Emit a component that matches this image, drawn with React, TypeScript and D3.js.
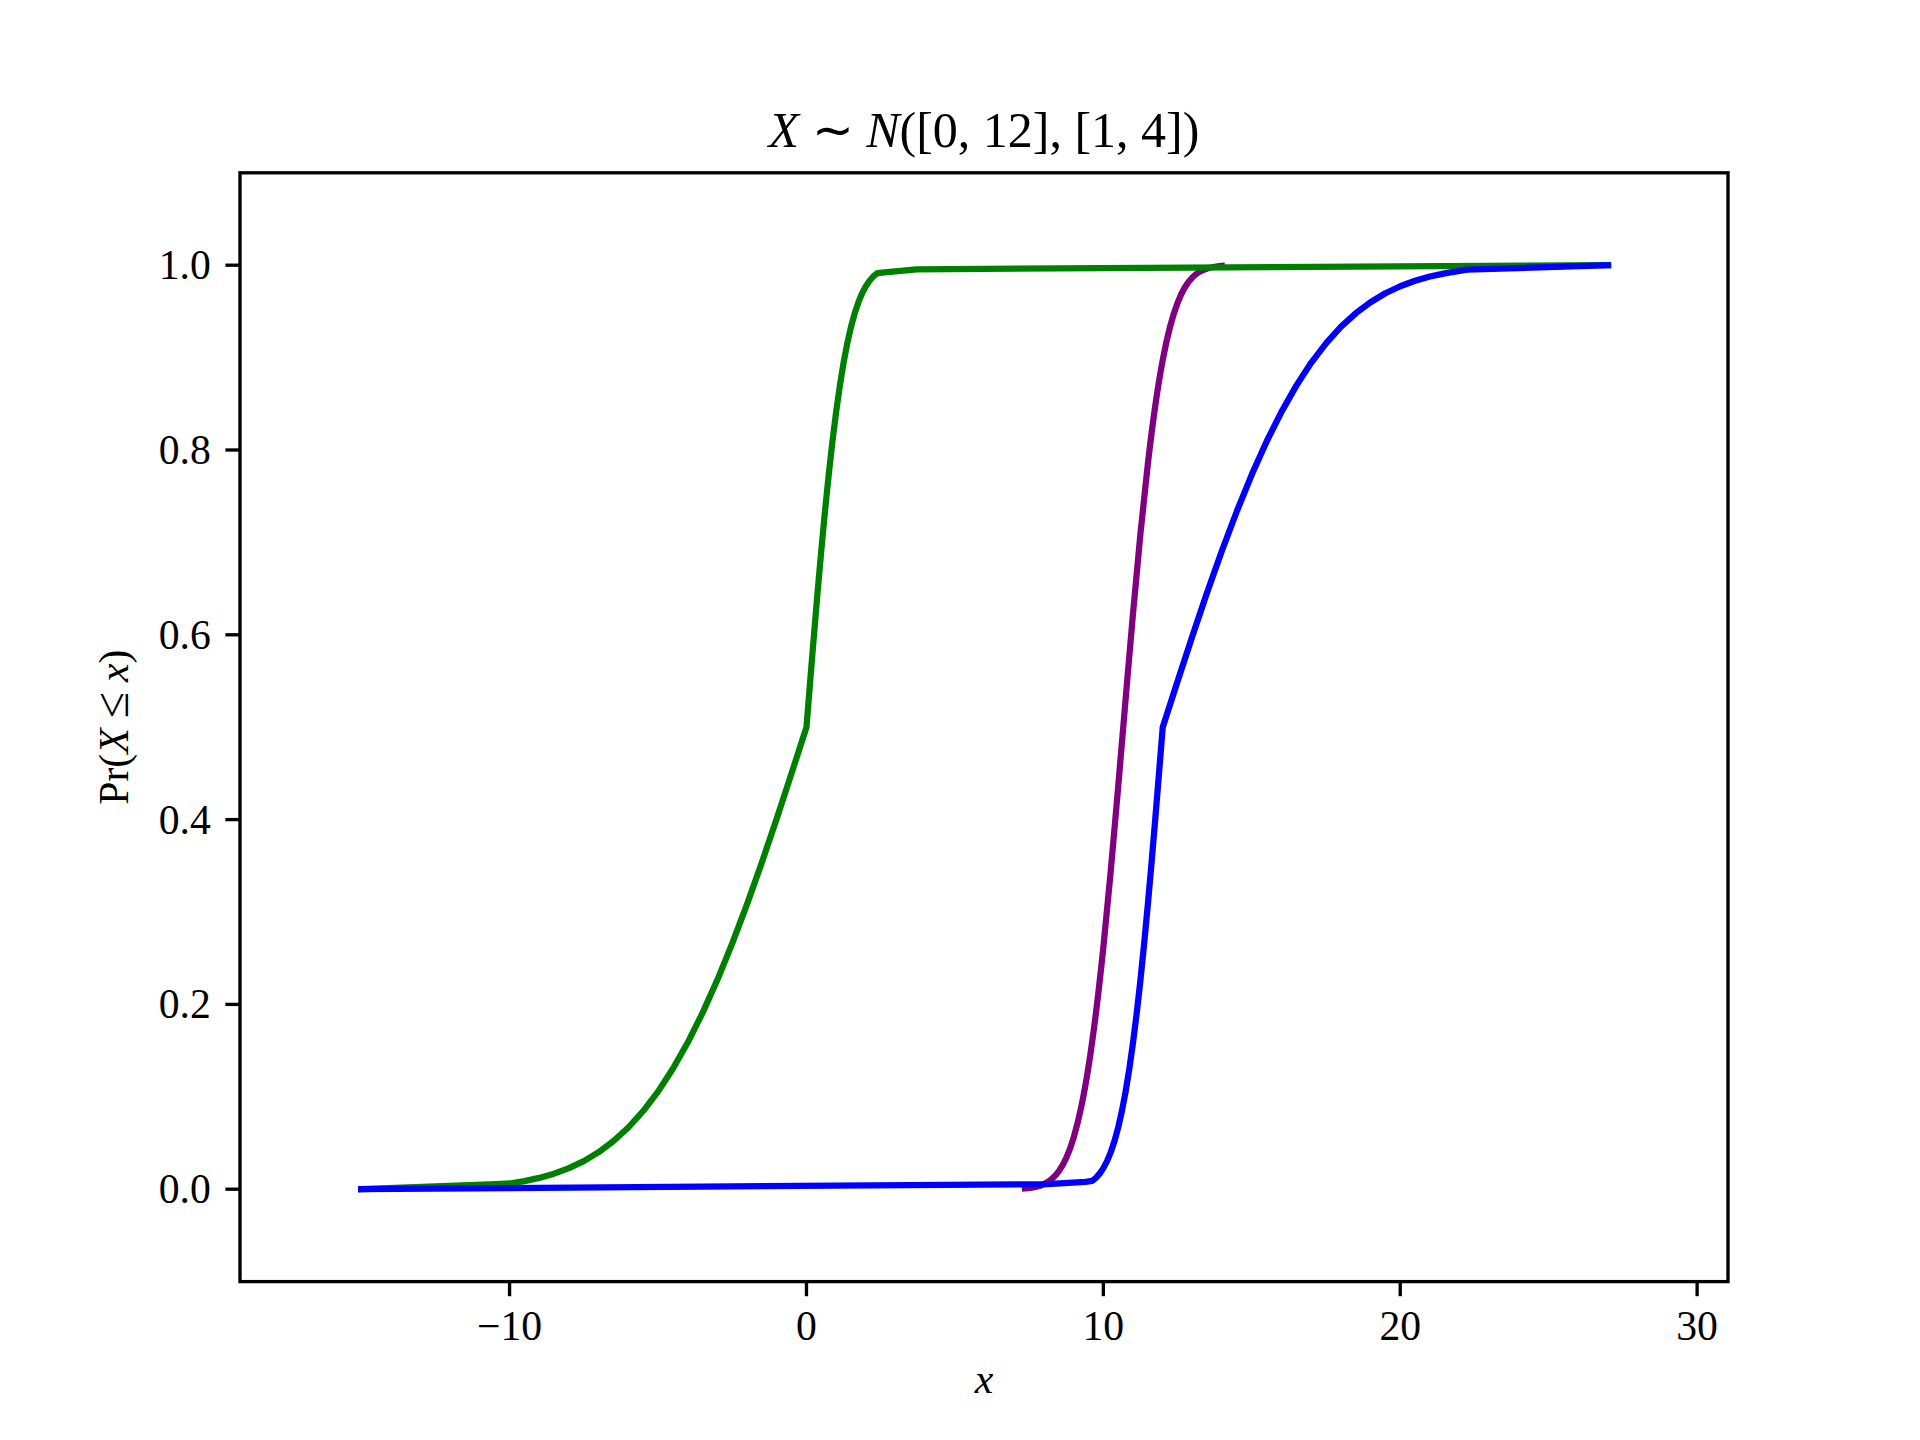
import { FC, useMemo } from "react";
import * as d3 from "d3";

const WIDTH = 1920;
const HEIGHT = 1440;
const MARGIN = { top: 172.8, right: 192, bottom: 158.4, left: 240 };

const X_DOMAIN: [number, number] = [-19.08, 31.04];
const Y_DOMAIN: [number, number] = [-0.1, 1.1];
const X_TICKS = [-10, 0, 10, 20, 30];
const Y_TICKS = [0, 0.2, 0.4, 0.6, 0.8, 1.0];

// upper bound (green)
const greenX = [
  -15, -10.45, -10, -9.5, -9, -8.5, -8, -7.5, -7, -6.5, -6, -5.5, -5, -4.5, -4,
  -3.5, -3, -2.5, -2, -1.5, -1, -0.5, 0, 0.125, 0.25, 0.375, 0.5, 0.625, 0.75,
  0.875, 1, 1.125, 1.25, 1.375, 1.5, 1.625, 1.75, 1.875, 2, 2.125, 2.25, 2.375,
  2.54, 3.71, 27,
];
const greenY = [
  0, 0.0055, 0.0062, 0.0088, 0.0122, 0.0168, 0.0228, 0.0304, 0.0401, 0.0521,
  0.0668, 0.0846, 0.1056, 0.1303, 0.1587, 0.1908, 0.2266, 0.266, 0.3085,
  0.3538, 0.4013, 0.4503, 0.5, 0.5497, 0.5987, 0.6462, 0.6915, 0.734, 0.7734,
  0.8092, 0.8413, 0.8697, 0.8944, 0.9154, 0.9332, 0.9479, 0.9599, 0.9696,
  0.9772, 0.9832, 0.9878, 0.9912, 0.992, 0.9956, 1.0,
];

// lower bound (blue)
const blueX = [
  -15, 8.1, 9.4, 9.625, 9.75, 9.875, 10, 10.125, 10.25, 10.375, 10.5, 10.625,
  10.75, 10.875, 11, 11.125, 11.25, 11.375, 11.5, 11.625, 11.75, 11.875, 12,
  12.5, 13, 13.5, 14, 14.5, 15, 15.5, 16, 16.5, 17, 17.5, 18, 18.5, 19, 19.5,
  20, 20.5, 21, 21.5, 22.25, 27,
];
const blueY = [
  0, 0.0055, 0.008, 0.009, 0.0122, 0.0168, 0.0228, 0.0304, 0.0401, 0.0521,
  0.0668, 0.0846, 0.1056, 0.1303, 0.1587, 0.1908, 0.2266, 0.266, 0.3085,
  0.3538, 0.4013, 0.4503, 0.5, 0.5497, 0.5987, 0.6462, 0.6915, 0.734, 0.7734,
  0.8092, 0.8413, 0.8697, 0.8944, 0.9154, 0.9332, 0.9479, 0.9599, 0.9696,
  0.9772, 0.9832, 0.9878, 0.9912, 0.9952, 1.0,
];

// single realisation (purple)
const purpleX = [
  7.36, 7.75, 8, 8.25, 8.5, 8.75, 9, 9.25, 9.5, 9.75, 10, 10.25, 10.5, 10.75,
  11, 11.25, 11.5, 11.75, 12, 12.25, 12.5, 12.75, 13, 13.25, 13.5, 13.75, 13.99,
];
const purpleY = [
  0.0008, 0.0027, 0.0055, 0.0106, 0.0194, 0.0337, 0.0559, 0.0882, 0.1326,
  0.1905, 0.2617, 0.3446, 0.4357, 0.5303, 0.6233, 0.7096, 0.7853, 0.8482,
  0.8974, 0.9338, 0.9593, 0.9762, 0.9868, 0.993, 0.9965, 0.9983, 0.9992,
];

const FONT = "'Liberation Serif', 'Times New Roman', serif";
const TICK_SIZE = 41.7;
const TICK_LEN = 14.6;
const SPINE_W = 3.33;
const LINE_W = 6.25;

type Pt = [number, number];
const zip = (xs: number[], ys: number[]): Pt[] => xs.map((x, i) => [x, ys[i]]);

const series = [
  { name: "purple", color: "#800080", pts: zip(purpleX, purpleY), smooth: true },
  { name: "green", color: "#008000", pts: zip(greenX, greenY), smooth: false },
  { name: "blue", color: "#0000ff", pts: zip(blueX, blueY), smooth: false },
];

const App: FC = () => {
  const boundsWidth = WIDTH - MARGIN.left - MARGIN.right;
  const boundsHeight = HEIGHT - MARGIN.top - MARGIN.bottom;

  const xScale = useMemo(
    () => d3.scaleLinear().domain(X_DOMAIN).range([0, boundsWidth]),
    [boundsWidth]
  );
  const yScale = useMemo(
    () => d3.scaleLinear().domain(Y_DOMAIN).range([boundsHeight, 0]),
    [boundsHeight]
  );

  const lines = series.map((s) => {
    const gen = d3
      .line<Pt>()
      .x((d) => xScale(d[0]))
      .y((d) => yScale(d[1]))
      .curve(s.smooth ? d3.curveMonotoneX : d3.curveLinear);
    return (
      <path
        key={s.name}
        d={gen(s.pts) || ""}
        fill="none"
        stroke={s.color}
        strokeWidth={LINE_W}
        strokeLinejoin="round"
        strokeLinecap="square"
      />
    );
  });

  const xTicks = X_TICKS.map((v) => (
    <g key={v} transform={`translate(${xScale(v)},${boundsHeight})`}>
      <line y1={0} y2={TICK_LEN} stroke="black" strokeWidth={SPINE_W} />
      <text
        y={TICK_LEN + 14.6 + 29}
        textAnchor="middle"
        fontSize={TICK_SIZE}
        fontFamily={FONT}
      >
        {v < 0 ? `\u2212${Math.abs(v)}` : `${v}`}
      </text>
    </g>
  ));

  const yTicks = Y_TICKS.map((v) => (
    <g key={v} transform={`translate(0,${yScale(v)})`}>
      <line x1={0} x2={-TICK_LEN} stroke="black" strokeWidth={SPINE_W} />
      <text
        x={-TICK_LEN - 14.6}
        y={14}
        textAnchor="end"
        fontSize={TICK_SIZE}
        fontFamily={FONT}
      >
        {v.toFixed(1)}
      </text>
    </g>
  ));

  return (
    <svg
      width={WIDTH}
      height={HEIGHT}
      style={{ position: "absolute", left: 0, top: 0, background: "white" }}
    >
      <rect width={WIDTH} height={HEIGHT} fill="white" />
      <g transform={`translate(${MARGIN.left},${MARGIN.top})`}>
        {lines}
        <rect
          x={0}
          y={0}
          width={boundsWidth}
          height={boundsHeight}
          fill="none"
          stroke="black"
          strokeWidth={SPINE_W}
        />
        {xTicks}
        {yTicks}
      </g>

      {/* title */}
      <text
        x={MARGIN.left + boundsWidth / 2}
        y={147}
        textAnchor="middle"
        fontSize={50}
        fontFamily={FONT}
      >
        <tspan fontStyle="italic">X</tspan>
        <tspan> ∼ </tspan>
        <tspan fontStyle="italic">N</tspan>
        <tspan>([0, 12], [1, 4])</tspan>
      </text>

      {/* x label */}
      <text
        x={MARGIN.left + boundsWidth / 2}
        y={1393}
        textAnchor="middle"
        fontSize={TICK_SIZE}
        fontFamily={FONT}
        fontStyle="italic"
      >
        x
      </text>

      {/* y label */}
      <text
        transform={`translate(128,${MARGIN.top + boundsHeight / 2}) rotate(-90)`}
        textAnchor="middle"
        fontSize={TICK_SIZE}
        fontFamily={FONT}
      >
        <tspan>Pr(</tspan>
        <tspan fontStyle="italic">X</tspan>
        <tspan dx={10} fontSize={48}>≤</tspan>
        <tspan dx={10} fontStyle="italic">x</tspan>
        <tspan>)</tspan>
      </text>
    </svg>
  );
};

export default App;
